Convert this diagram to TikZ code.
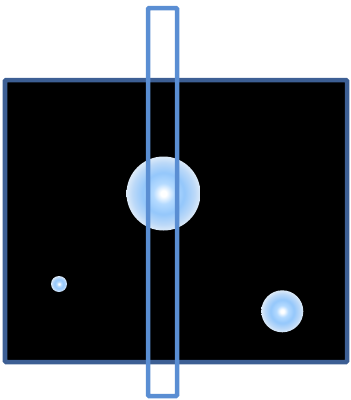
\documentclass[tikz,border=0pt]{standalone}
\usetikzlibrary{shadings}
\definecolor{frameblue}{HTML}{3D5F94}
\definecolor{slitblue}{HTML}{5A8ED3}
\definecolor{glowA}{HTML}{FFFFFF}
\definecolor{glowB}{HTML}{B4DAFF}
\definecolor{glowC}{HTML}{94C7FB}
\definecolor{glowD}{HTML}{BCD9F8}
\definecolor{glowE}{HTML}{DCEAF8}
\pgfdeclareradialshading{glow}{\pgfpoint{0bp}{0bp}}{%
  color(0bp)=(glowA); color(2bp)=(glowA); color(7bp)=(glowB); color(14bp)=(glowC);
  color(21bp)=(glowD); color(25bp)=(glowE); color(50bp)=(glowE)}
\begin{document}
\begin{tikzpicture}[x=1pt,y=-1pt,
  star/.style={circle,draw=none,inner sep=0pt,shading=glow,minimum size=#1}]
\useasboundingbox (0,0) rectangle (351,400);
\node[draw=frameblue,line width=4.5pt,fill=black,inner sep=0pt,minimum width=342pt,minimum height=282pt,rounded corners=1pt] (field) at (176,221) {};
\node[star=74pt] (big) at (163.5,193.5) {};
\node[star=16pt] (small) at (59,284) {};
\node[star=42pt] (mid) at (282.3,311.3) {};
\node[draw=slitblue,line width=4.5pt,inner sep=0pt,minimum width=29pt,minimum height=388pt,rounded corners=1pt] (slit) at (162.5,202) {};
\end{tikzpicture}
\end{document}
